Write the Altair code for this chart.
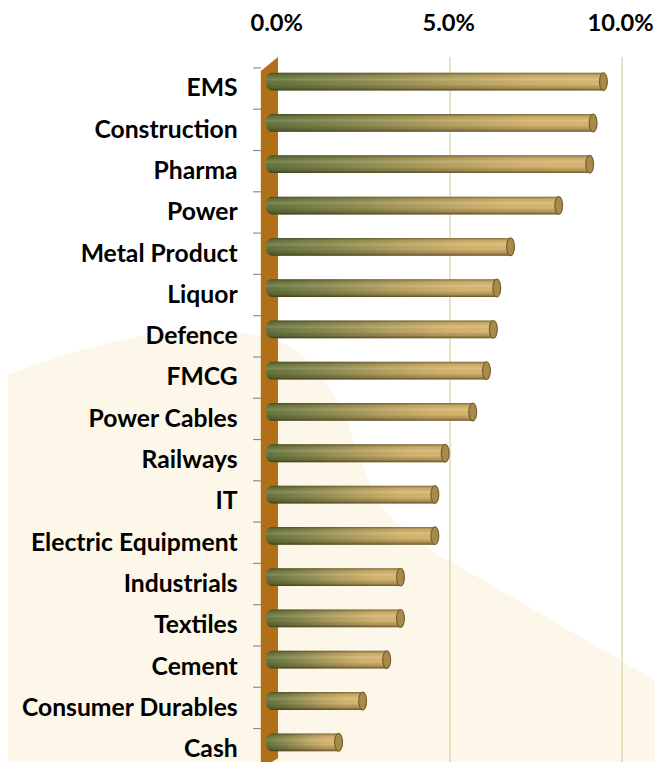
import altair as alt
import pandas as pd

categories = ["EMS", "Construction", "Pharma", "Power", "Metal Product", "Liquor",
              "Defence", "FMCG", "Power Cables", "Railways\u00a0", "IT", "Electric Equipment",
              "Industrials", "Textiles", "Cement", "Consumer Durables", "Cash"]
weights = [9.7, 9.4, 9.3, 8.4, 7.0, 6.6, 6.5, 6.3, 5.9, 5.1, 4.8, 4.8, 3.8, 3.8, 3.4, 2.7, 2.0]
tick_values = [0, 5, 10]

df = pd.DataFrame({"cat": categories, "w": weights})
grid_df = pd.DataFrame({"w": tick_values[1:]})

FONT = "Lato"
xscale = alt.Scale(domain=[-0.2585, 10.9415], nice=False, zero=False)
yscale = alt.Scale(domain=categories, range=[0, 710.6], paddingInner=0, paddingOuter=0)

xaxis = alt.Axis(orient="top", values=tick_values, title=None, domain=False,
                 ticks=False, grid=False, labelPadding=33, labelFlush=False,
                 labelOffset=6.5, labelLimit=300,
                 labelExpr="format(datum.value, '.1f') + '%'",
                 labelFont=FONT, labelFontSize=24, labelFontWeight="bold",
                 labelColor="#000000", zindex=1)
yaxis = alt.Axis(title=None, domain=False, ticks=False, labelPadding=24,
                 labelFont=FONT, labelFontSize=25, labelFontWeight="bold",
                 labelColor="#000000", labelOffset=0, labelLimit=400, zindex=1)

Y = alt.Y("cat:N", sort=categories, scale=yscale, axis=yaxis)
X = alt.X("w:Q", scale=xscale, axis=xaxis)


def xd(v):
    return alt.XDatum(datum=v, scale=xscale, axis=xaxis)


ELLIPSE = "M0,-1 A0.44,1 0 1,1 0,1 A0.44,1 0 1,1 0,-1 Z"
WALL = "M-0.0242,-0.961 L0.0242,-1 L0.0242,0.972 L-0.0242,1 Z"
WATERMARK = ("M-3.4,-1.72 Q-1.7,-2.4 -0.7,-2.18 Q-0.15,-2.1 0.2,-1.3 "
             "L0.485,-0.53 Q0.8,-0.1 1.235,0.10 L3.4,1.36 L3.4,2.4 L-3.4,2.4 Z")

bg = alt.Chart(df).mark_point(shape=WATERMARK, filled=True, size=40000,
                              color="#fcf7e8", opacity=1).transform_filter(
    "datum.cat == 'EMS'").encode(x=alt.value(67.5), y=alt.value(489))

grid = alt.Chart(grid_df).mark_rule(color="#d9d5a6", strokeWidth=1.3, xOffset=8.4).encode(
    x=X, y=alt.value(-11), y2=alt.value(705))

wall = alt.Chart(df).mark_point(shape=WALL, filled=True, size=518400,
                                color="#b16f17", opacity=1).transform_filter(
    "datum.cat == 'EMS'").encode(x=xd(-0.01), y=alt.value(349))

ticks = alt.Chart(df).mark_rule(color="#8c8c8c", strokeWidth=1.2, yOffset=-20.9).encode(
    y=Y, x=xd(-0.488), x2=alt.X2Datum(datum=-0.258))

grad_h = alt.Gradient(gradient="linear", x1=0, x2=1, y1=0, y2=0, stops=[
    alt.GradientStop(color="#64743d", offset=0),
    alt.GradientStop(color="#86884e", offset=0.25),
    alt.GradientStop(color="#b6a261", offset=0.55),
    alt.GradientStop(color="#d5b46e", offset=0.8),
    alt.GradientStop(color="#d9b870", offset=1)])

grad_v = alt.Gradient(gradient="linear", x1=0, x2=0, y1=0, y2=1, stops=[
    alt.GradientStop(color="rgba(50,45,20,0.55)", offset=0),
    alt.GradientStop(color="rgba(60,50,20,0.10)", offset=0.14),
    alt.GradientStop(color="rgba(255,250,220,0.15)", offset=0.38),
    alt.GradientStop(color="rgba(0,0,0,0.0)", offset=0.62),
    alt.GradientStop(color="rgba(50,40,15,0.25)", offset=0.85),
    alt.GradientStop(color="rgba(40,32,10,0.65)", offset=1)])

bar_props = dict(size=18, yOffset=-7, cornerRadiusTopLeft=6, cornerRadiusBottomLeft=6)

bars = alt.Chart(df).mark_bar(fill=grad_h, **bar_props).encode(
    x=X, x2=alt.X2Datum(datum=-0.1), y=Y)

shade = alt.Chart(df).mark_bar(fill=grad_v, **bar_props).encode(
    x=X, x2=alt.X2Datum(datum=-0.1), y=Y)

right_cap = alt.Chart(df).mark_point(shape=ELLIPSE, filled=True, size=324, opacity=1,
                                     fill="#a88b4a", stroke="#76602e", strokeWidth=1.2,
                                     yOffset=-7).encode(
    x=X, y=Y)

chart = alt.layer(bg, grid, wall, ticks, bars, shade, right_cap).properties(
    width=390, height=698,
    autosize=alt.AutoSizeParams(type="none"),
    padding={"left": 256, "top": 56, "right": 9, "bottom": 0},
    background="#ffffff",
).configure_view(strokeWidth=0)

chart.save("out.html", embed_options={"renderer": "svg", "actions": False})
